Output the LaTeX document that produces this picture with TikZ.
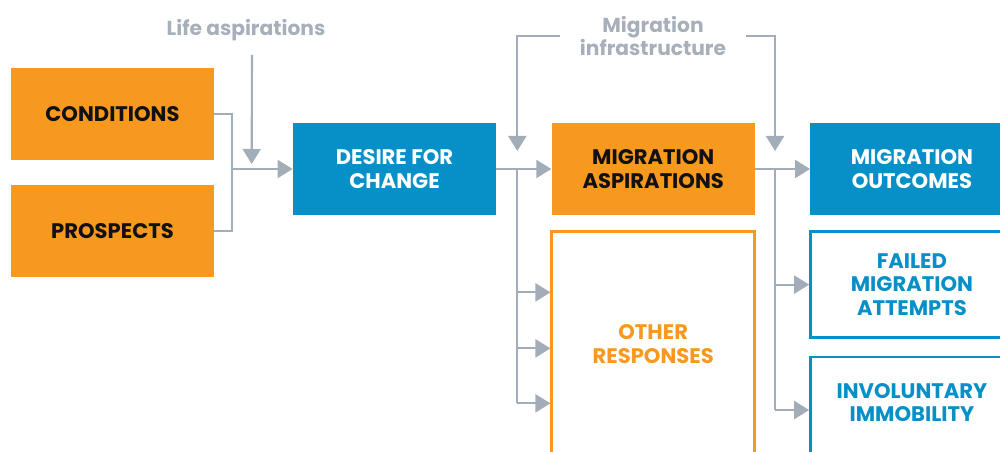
\documentclass[tikz,border=0pt]{standalone}
\usepackage{fontspec}
\setmainfont{Poppins}
\usetikzlibrary{arrows.meta,positioning,calc}
\definecolor{mgorange}{HTML}{F7981F}
\definecolor{mgblue}{HTML}{0790C8}
\definecolor{mgline}{HTML}{A3ADB8}
\definecolor{mglabel}{HTML}{A7B0BA}
\definecolor{mgtext}{HTML}{111111}
\tikzset{
  blk/.style={rectangle,minimum width=4.06cm,minimum height=1.84cm,align=center,inner sep=2pt,
    font=\fontsize{12}{13.5}\selectfont\bfseries},
  orangeblk/.style={blk,fill=mgorange,text=mgtext},
  blueblk/.style={blk,fill=mgblue,text=white},
  orangeout/.style={blk,draw=mgorange,line width=1.4pt,text=mgorange},
  blueout/.style={blk,draw=mgblue,line width=1.4pt,text=mgblue},
  line/.style={mgline,line width=1.2pt},
  arr/.style={line,-{Triangle[width=0.36cm,length=0.3cm]}},
  lbl/.style={font=\fontsize{11.5}{13.5}\selectfont\bfseries,text=mglabel,align=center}
}
\begin{document}
\begin{tikzpicture}[node distance=0.48cm and 1.1cm]
  \path[use as bounding box] (0,0) rectangle (20,-9.04);
  \clip (0,0) rectangle (20,-9.04);

  \node[orangeblk] (cond) at (2.25,-2.28) {CONDITIONS};
  \node[orangeblk, below=of cond] (pros) {PROSPECTS};
  \node[blueblk] (desire) at (7.89,-3.38) {DESIRE FOR\\CHANGE};
  \node[orangeblk, right=of desire] (asp) {MIGRATION\\ASPIRATIONS};
  \node[blueblk, right=of asp] (out) {MIGRATION\\OUTCOMES};

  \node[orangeout, below=0.3cm of asp, minimum height=4.5cm] (other) {OTHER\\RESPONSES};
  \node[blueout, below=0.3cm of out, minimum height=2.12cm] (failed) {FAILED\\MIGRATION\\ATTEMPTS};
  \node[blueout, below=0.34cm of failed, minimum height=2.12cm] (invol) {INVOLUNTARY\\IMMOBILITY\\[-5pt]\mbox{}};

  \node[lbl] (life) at (4.92,-0.6) {Life aspirations};
  \node[lbl, inner xsep=0.4cm] (infra) at (13.06,-0.72) {Migration\\infrastructure};

  % joining the two inputs
  \coordinate[left=1.22cm of desire.west] (joinA);
  \coordinate[above=0.1cm of joinA, xshift=0.4cm] (lifetip);
  \coordinate (lifetop) at (5.04,-1.1);
  \draw[line] (cond.east) -| (joinA) |- (pros.east);
  \draw[arr] (joinA) -- (desire);
  \draw[arr] (lifetop) -- (lifetip);

  % desire -> aspirations / other responses
  \coordinate[right=0.42cm of desire.east] (split1);
  \coordinate[above=0.36cm of split1] (infraL);
  \draw[arr] (desire) -- (asp);
  \foreach \dy [count=\i] in {1.24,2.36,3.46}
    \coordinate (o\i) at ($(other.north west)+(0,-\dy)$);
  \draw[line] (split1) -- (split1 |- o3);
  \foreach \i in {1,2,3}
    \draw[arr] (split1 |- o\i) -- (o\i);

  % aspirations -> outcomes
  \coordinate[right=0.4cm of asp.east] (split2);
  \coordinate[above=0.36cm of split2] (infraR);
  \draw[arr] (asp) -- (out);
  \draw[line] (split2) -- (split2 |- invol);
  \draw[arr] (split2 |- failed) -- (failed);
  \draw[arr] (split2 |- invol) -- (invol);

  \draw[arr] (infra.west) -| (infraL);
  \draw[arr] (infra.east) -| (infraR);
\end{tikzpicture}
\end{document}
